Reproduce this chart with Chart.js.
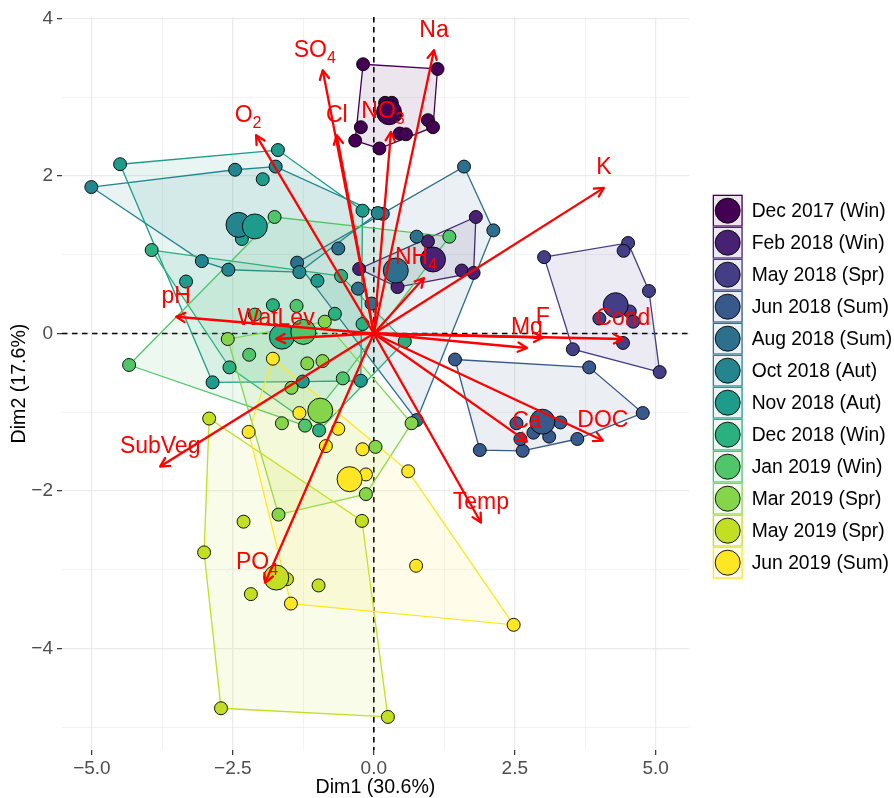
<!DOCTYPE html>
<html>
<head>
<meta charset="utf-8">
<script src="https://cdn.jsdelivr.net/npm/chart.js@4/dist/chart.umd.min.js"></script>
<style>
  html, body { margin: 0; padding: 0; background: #ffffff; }
  #wrap { width: 894px; height: 798px; position: relative; }
</style>
</head>
<body>
<div id="wrap"><canvas id="c" width="894" height="798"></canvas></div>
<script>
// Sampling campaigns (legend order)
const seasons = [
  'Dec 2017 (Win)', 'Feb 2018 (Win)', 'May 2018 (Spr)', 'Jun 2018 (Sum)',
  'Aug 2018 (Sum)', 'Oct 2018 (Aut)', 'Nov 2018 (Aut)', 'Dec 2018 (Win)',
  'Jan 2019 (Win)', 'Mar 2019 (Spr)', 'May 2019 (Spr)', 'Jun 2019 (Sum)'
];
const seasonColors = [
  '#440154', '#482173', '#433E85', '#38598C', '#2D708E', '#25858E',
  '#1E9B8A', '#2BB07F', '#51C56A', '#85D54A', '#C2DF23', '#FDE725'
];

// Individual sample scores [Dim1, Dim2] per campaign
const ptsDec2017 = [[-0.19,3.42],[1.13,3.36],[-0.23,2.62],[-0.33,2.45],[0.10,2.35],[0.96,2.71],[1.05,2.62],[0.46,2.54],[0.57,2.53],[0.20,2.93],[0.32,2.93],[0.38,2.77]];
const ptsFeb2018 = [[1.81,1.48],[0.96,1.17],[-0.26,0.82],[0.42,0.59],[1.56,0.80],[1.77,0.77]];
const ptsMay2018 = [[3.02,0.97],[4.51,1.15],[4.43,1.05],[4.88,0.54],[4.54,0.28],[4.00,0.19],[4.60,0.15],[4.42,-0.12],[3.53,-0.20],[5.07,-0.49]];
const ptsJun2018 = [[1.44,-0.33],[3.82,-0.43],[4.77,-1.01],[3.61,-1.34],[2.64,-1.49],[1.88,-1.48],[2.53,-1.14],[2.60,-1.34],[2.83,-1.26],[3.11,-1.31],[3.31,-1.13]];
const ptsAug2018 = [[1.60,2.12],[0.16,1.52],[2.12,1.31],[0.76,1.23],[-0.63,1.08],[-0.28,0.57],[-0.04,0.38],[0.76,-1.10],[-1.36,0.90]];
const ptsOct2018 = [[-5.01,1.86],[-2.46,2.08],[-1.74,2.12],[-3.05,0.92],[-1.32,0.78],[0.07,1.53],[-2.58,0.81]];
const ptsNov2018 = [[-4.50,2.15],[-1.70,2.33],[-1.97,1.96],[-0.20,1.56],[-2.34,1.20],[-1.00,0.67],[-3.33,0.66],[-2.86,-0.62],[-0.23,-0.60],[-1.26,-0.61]];
const ptsDec2018 = [[-3.94,1.06],[-1.79,0.36],[-0.58,0.73],[-0.69,0.25],[-0.20,0.12],[0.55,-0.10],[-2.56,-0.43],[-0.97,-1.23]];
const ptsJan2019 = [[-1.76,1.48],[1.34,1.23],[-4.34,-0.40],[-1.37,0.35],[-2.11,0.24],[-2.21,-0.27],[-0.55,-0.57],[-1.22,-1.17]];
const ptsMar2019 = [[-2.59,-0.07],[-0.87,0.15],[-1.18,-0.38],[-0.91,-0.35],[-1.46,-0.69],[-1.63,-1.14],[0.03,-1.44],[-0.14,-2.04],[-1.69,-2.30],[0.67,-1.14]];
const ptsMay2019 = [[-2.92,-1.08],[-2.31,-2.39],[-0.21,-2.38],[-3.01,-2.78],[-2.18,-3.31],[-1.54,-3.12],[-0.98,-3.20],[-2.71,-4.76],[0.25,-4.87]];
const ptsJun2019 = [[-1.79,-0.32],[-1.32,-1.01],[-2.22,-1.25],[-0.63,-1.21],[-0.85,-1.43],[-0.20,-1.47],[-0.14,-1.79],[0.61,-1.75],[0.75,-2.95],[2.48,-3.70],[-1.47,-3.43]];

const samplePoints = [ptsDec2017, ptsFeb2018, ptsMay2018, ptsJun2018, ptsAug2018, ptsOct2018,
                      ptsNov2018, ptsDec2018, ptsJan2019, ptsMar2019, ptsMay2019, ptsJun2019];

// Campaign centroids
const groupMeans = [[0.27,2.81],[1.05,0.94],[4.29,0.36],[2.99,-1.12],[0.39,0.80],[-2.40,1.38],
                    [-2.11,1.36],[-1.63,-0.04],[-1.25,0.02],[-0.95,-0.98],[-1.73,-3.10],[-0.43,-1.85]];

// Variable loadings (arrow tips)
const varNames = ['Na','SO4','O2','Cl','NO3','K','NH4','F','Mg','Cond','Ca','DOC','Temp','PO4','SubVeg','pH','WatLev'];
const varX = [1.067,-0.906,-2.088,-0.657,0.305,4.079,0.890,2.998,2.715,4.416,2.715,4.062,1.900,-1.928,-3.789,-3.505,-1.733];
const varY = [3.598,3.344,2.519,2.519,2.561,1.850,0.704,-0.051,-0.184,-0.070,-1.373,-1.360,-2.401,-3.166,-1.690,0.213,-0.070];

// Axis ticks (major + minor)
const xTicks = [-5, -3.75, -2.5, -1.25, 0, 1.25, 2.5, 3.75, 5];
const yTicks = [-5, -4, -3, -2, -1, 0, 1, 2, 3, 4];
const xMajor = [-5, -2.5, 0, 2.5, 5];
const yMajor = [-4, -2, 0, 2, 4];
const xTitle = 'Dim1 (30.6%)';
const yTitle = 'Dim2 (17.6%)';

const FONT = '"Liberation Sans", Arial, Helvetica, sans-serif';

function withAlpha(hex, a) {
  const n = parseInt(hex.slice(1), 16);
  return `rgba(${(n >> 16) & 255},${(n >> 8) & 255},${n & 255},${a})`;
}
function minusFmt(s) { return s.replace('-', '\u2212'); }

function convexHull(points) {
  const p = points.slice().sort((a, b) => a[0] - b[0] || a[1] - b[1]);
  const cross = (o, a, b) => (a[0] - o[0]) * (b[1] - o[1]) - (a[1] - o[1]) * (b[0] - o[0]);
  const lower = [];
  for (const q of p) {
    while (lower.length >= 2 && cross(lower[lower.length - 2], lower[lower.length - 1], q) <= 0) lower.pop();
    lower.push(q);
  }
  const upper = [];
  for (let i = p.length - 1; i >= 0; i--) {
    const q = p[i];
    while (upper.length >= 2 && cross(upper[upper.length - 2], upper[upper.length - 1], q) <= 0) upper.pop();
    upper.push(q);
  }
  upper.pop(); lower.pop();
  return lower.concat(upper);
}

const datasets = [];
// convex hulls
samplePoints.forEach((pts, g) => {
  const h = convexHull(pts);
  h.push(h[0]);
  datasets.push({
    kind: 'hull',
    data: h.map(p => ({ x: p[0], y: p[1] })),
    showLine: true, fill: 'shape', tension: 0,
    backgroundColor: withAlpha(seasonColors[g], 0.1),
    borderColor: seasonColors[g], borderWidth: 1.3,
    pointRadius: 0, pointHoverRadius: 0,
    order: 100 - g
  });
});
// individual samples
samplePoints.forEach((pts, g) => {
  datasets.push({
    kind: 'points',
    data: pts.map(p => ({ x: p[0], y: p[1] })),
    showLine: false,
    pointRadius: 6.5, pointHoverRadius: 6.5,
    pointBackgroundColor: seasonColors[g], pointBorderColor: '#000000', pointBorderWidth: 0.9,
    order: 60 - g
  });
});
// centroids
groupMeans.forEach((m, g) => {
  datasets.push({
    kind: 'mean',
    data: [{ x: m[0], y: m[1] }],
    showLine: false,
    pointRadius: 12.5, pointHoverRadius: 12.5,
    pointBackgroundColor: seasonColors[g], pointBorderColor: '#000000', pointBorderWidth: 0.9,
    order: 30 - g
  });
});
// variable arrows
varNames.forEach((name, i) => {
  datasets.push({
    kind: 'arrow', varIndex: i,
    data: [{ x: 0, y: 0 }, { x: varX[i], y: varY[i] }],
    showLine: true, fill: false, tension: 0,
    borderColor: '#FF0000', borderWidth: 2.3,
    pointRadius: 0, pointHoverRadius: 0,
    order: 0
  });
});

const biplotDecor = {
  id: 'biplotDecor',
  beforeDatasetsDraw(chart) {
    const { ctx, chartArea: a, scales: { x, y } } = chart;
    ctx.save();
    ctx.strokeStyle = '#000000';
    ctx.lineWidth = 1.6;
    ctx.setLineDash([5.5, 4.5]);
    const x0 = x.getPixelForValue(0), y0 = y.getPixelForValue(0);
    ctx.beginPath();
    ctx.moveTo(x0, a.top); ctx.lineTo(x0, a.bottom);
    ctx.moveTo(a.left, y0); ctx.lineTo(a.right, y0);
    ctx.stroke();
    ctx.restore();
  },
  afterDatasetsDraw(chart) {
    const { ctx } = chart;
    ctx.save();
    chart.data.datasets.forEach((ds, di) => {
      if (ds.kind !== 'arrow') return;
      const meta = chart.getDatasetMeta(di);
      const p0 = meta.data[0], p1 = meta.data[1];
      const ang = Math.atan2(p1.y - p0.y, p1.x - p0.x);
      const L = 10, w = Math.PI / 6.5;
      ctx.strokeStyle = '#FF0000';
      ctx.lineWidth = 2.3;
      ctx.lineCap = 'round';
      ctx.lineJoin = 'round';
      ctx.beginPath();
      ctx.moveTo(p1.x - L * Math.cos(ang - w), p1.y - L * Math.sin(ang - w));
      ctx.lineTo(p1.x, p1.y);
      ctx.lineTo(p1.x - L * Math.cos(ang + w), p1.y - L * Math.sin(ang + w));
      ctx.stroke();
    });
    // variable labels
    chart.data.datasets.forEach((ds, di) => {
      if (ds.kind !== 'arrow') return;
      const meta = chart.getDatasetMeta(di);
      const p1 = meta.data[1];
      const name = varNames[ds.varIndex];
      const m = name.match(/^(.*?[A-Za-z])(\d*)$/);
      const main = m[1], sub = m[2];
      ctx.fillStyle = '#FF0000';
      ctx.textBaseline = 'middle';
      ctx.textAlign = 'left';
      ctx.font = `23px ${FONT}`;
      const wm = ctx.measureText(main).width;
      ctx.font = `16px ${FONT}`;
      const ws = sub ? ctx.measureText(sub).width : 0;
      const cx = p1.x + (sub ? -8 : 0);
      const cy = p1.y - 20;
      const sx = cx - (wm + ws) / 2;
      ctx.font = `23px ${FONT}`;
      ctx.fillText(main, sx, cy);
      if (sub) {
        ctx.font = `16px ${FONT}`;
        ctx.fillText(sub, sx + wm, cy + 8);
      }
    });
    ctx.restore();
  },
  afterDraw(chart) {
    const { ctx, chartArea: a } = chart;
    ctx.save();
    // axis titles
    ctx.fillStyle = '#000000';
    ctx.font = `19.6px ${FONT}`;
    ctx.textAlign = 'center';
    ctx.textBaseline = 'middle';
    ctx.fillText(xTitle, (a.left + a.right) / 2, 788);
    ctx.save();
    ctx.translate(20, (a.top + a.bottom) / 2);
    ctx.rotate(-Math.PI / 2);
    ctx.fillText(yTitle, 0, 0);
    ctx.restore();
    // legend
    const kx = 712.7, kw = 30, kh = 32, top0 = 194.7;
    seasons.forEach((s, i) => {
      const ty = top0 + i * kh;
      ctx.fillStyle = '#ffffff';
      ctx.fillRect(kx, ty, kw, kh);
      ctx.fillStyle = withAlpha(seasonColors[i], 0.1);
      ctx.fillRect(kx, ty, kw, kh);
      ctx.strokeStyle = seasonColors[i];
      ctx.lineWidth = 1.3;
      ctx.strokeRect(kx + 0.65, ty + 0.65, kw - 1.3, kh - 1.3);
      ctx.beginPath();
      ctx.arc(kx + kw / 2, ty + kh / 2, 12.5, 0, Math.PI * 2);
      ctx.fillStyle = seasonColors[i];
      ctx.fill();
      ctx.strokeStyle = '#000000';
      ctx.lineWidth = 0.9;
      ctx.stroke();
      ctx.fillStyle = '#000000';
      ctx.font = `19.3px ${FONT}`;
      ctx.textAlign = 'left';
      ctx.textBaseline = 'middle';
      ctx.fillText(s, 751.7, ty + kh / 2 + 1);
    });
    ctx.restore();
  }
};

function isIn(arr, v) { return arr.some(t => Math.abs(t - v) < 1e-9); }

new Chart(document.getElementById('c'), {
  type: 'scatter',
  data: { datasets },
  options: {
    responsive: false,
    animation: false,
    events: [],
    layout: { padding: { left: 0, right: 205, top: 17, bottom: 0 } },
    plugins: { legend: { display: false }, tooltip: { enabled: false }, title: { display: false } },
    scales: {
      x: {
        type: 'linear', min: -5.53, max: 5.59,
        afterBuildTicks: s => { s.ticks = xTicks.map(v => ({ value: v })); },
        afterFit: s => { s.height = 48; },
        border: { display: false },
        grid: {
          color: '#EBEBEB',
          lineWidth: c => (c.tick && isIn(xMajor, c.tick.value)) ? 1.3 : 0.65,
          drawTicks: true, tickLength: 5, tickWidth: 1.2,
          tickColor: c => (c.tick && isIn(xMajor, c.tick.value)) ? '#333333' : 'rgba(0,0,0,0)'
        },
        ticks: {
          autoSkip: false, maxRotation: 0, padding: 2, color: '#4D4D4D',
          font: { family: FONT, size: 19 },
          callback: v => isIn(xMajor, v) ? minusFmt(v.toFixed(1)) : ''
        }
      },
      y: {
        type: 'linear', min: -5.29, max: 4.02,
        afterBuildTicks: s => { s.ticks = yTicks.map(v => ({ value: v })); },
        afterFit: s => { s.width = 62; },
        border: { display: false },
        grid: {
          color: '#EBEBEB',
          lineWidth: c => (c.tick && isIn(yMajor, c.tick.value)) ? 1.3 : 0.65,
          drawTicks: true, tickLength: 5, tickWidth: 1.2,
          tickColor: c => (c.tick && isIn(yMajor, c.tick.value)) ? '#333333' : 'rgba(0,0,0,0)'
        },
        ticks: {
          autoSkip: false, padding: 4, color: '#4D4D4D',
          font: { family: FONT, size: 19 },
          callback: v => isIn(yMajor, v) ? minusFmt(String(v)) : ''
        }
      }
    }
  },
  plugins: [biplotDecor]
});
</script>
</body>
</html>
